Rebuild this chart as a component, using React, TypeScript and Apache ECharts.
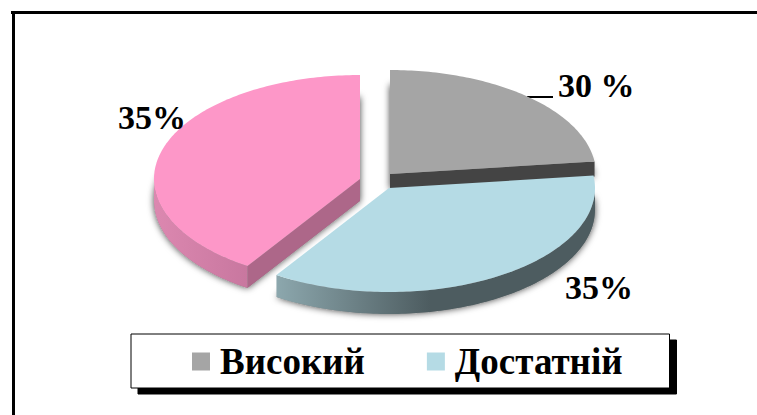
import React, { useEffect, useRef } from "react";
import * as echarts from "echarts";

const legendNames = ["Високий", "Достатній"];
const sliceNames = ["Високий", "Достатній", "Інший"];
// Slice shares as drawn in the picture (printed labels differ from the geometry)
const sliceShares = [23.1, 36.1, 40.8];
const sliceLabels = ["30 %", "35%", "35%"];
const sliceColors = ["#a5a5a5", "#b5dbe5", "#fd97c8"];

const RX = 206;
const RY = 104;
const FONT = '"Liberation Serif", "Times New Roman", serif';

const centers = [
  { x: 390, y: 174, depth: 15 },
  { x: 389, y: 188, depth: 22 },
  { x: 360, y: 179, depth: 22 },
];
const labelPos = [
  { x: 558, y: 85 },
  { x: 565, y: 287 },
  { x: 118, y: 117 },
];

const rad = (d: number) => (d * Math.PI) / 180;
const pt = (c: { x: number; y: number }, deg: number, dy = 0): number[] => [
  c.x + RX * Math.sin(rad(deg)),
  c.y - RY * Math.cos(rad(deg)) + dy,
];
const arc = (c: { x: number; y: number }, a: number, b: number, dy = 0) => {
  const out: number[][] = [];
  const n = Math.max(2, Math.ceil(Math.abs(b - a)));
  for (let i = 0; i <= n; i++) out.push(pt(c, a + ((b - a) * i) / n, dy));
  return out;
};

const lin = (x0: number, x1: number, stops: string[]) => ({
  type: "linear",
  x: x0,
  y: 0,
  x2: x1,
  y2: 0,
  global: true,
  colorStops: stops.map((color, i) => ({ offset: i / (stops.length - 1), color })),
});

const makeRender = (idx: number) => (_p: any, api: any) => {
  const start = api.value(0) as number;
  const end = api.value(1) as number;
  const c = centers[idx];
  const d = c.depth;
  const top = [[c.x, c.y], ...arc(c, start, end)];
  const bottom = top.map(([x, y]) => [x, y + d]);
  const children: any[] = [
    {
      type: "polygon",
      shape: { points: bottom },
      style: {
        fill: "#8a8a8a",
        shadowBlur: 7,
        shadowColor: "rgba(0,0,0,0.75)",
      },
    },
  ];
  // End face that looks towards the viewer
  if (idx === 0) {
    const p = pt(c, end);
    children.push({
      type: "polygon",
      shape: { points: [[c.x, c.y], p, [p[0], p[1] + d], [c.x, c.y + d]] },
      style: { fill: "#444444" },
    });
  }
  if (idx === 2) {
    const p = pt(c, start);
    children.push({
      type: "polygon",
      shape: { points: [[c.x, c.y], p, [p[0], p[1] + d], [c.x, c.y + d]] },
      style: { fill: "#ad6789" },
    });
  }
  // Curved rim, only where it faces the viewer
  const a = Math.max(start, 90);
  const b = Math.min(end, 270);
  if (b > a) {
    const upper = arc(c, a, b);
    const lower = arc(c, b, a, d);
    const fill =
      idx === 1
        ? lin(277, 430, ["#8ca7ad", "#4d5c60"])
        : idx === 2
        ? lin(153, 249, ["#dc88b0", "#c8779f"])
        : "#444444";
    children.push({
      type: "polygon",
      shape: { points: [...upper, ...lower] },
      style: { fill },
    });
  }
  children.push({
    type: "polygon",
    shape: { points: top },
    style: { fill: sliceColors[idx] },
  });
  return { type: "group", children };
};

export default function App() {
  const ref = useRef<HTMLDivElement>(null);
  useEffect(() => {
    const chart = echarts.init(ref.current!, undefined, { renderer: "svg" });
    let acc = 0;
    const spans = sliceShares.map((s) => {
      const from = (acc / 100) * 360;
      acc += s;
      return [from, (acc / 100) * 360];
    });
    chart.setOption({
      animation: false,
      backgroundColor: "#ffffff",
      legend: {
        data: legendNames.map((name) => ({ name, icon: "rect" })),
        left: 131,
        top: 334,
        orient: "horizontal",
        padding: [9, 47, 8, 61],
        itemWidth: 18,
        itemHeight: 18,
        itemGap: 62,
        backgroundColor: "#ffffff",
        borderColor: "#000000",
        borderWidth: 1,
        shadowColor: "#000000",
        shadowOffsetX: 7,
        shadowOffsetY: 6,
        shadowBlur: 0,
        selectedMode: false,
        textStyle: {
          fontFamily: FONT,
          fontWeight: "bold",
          fontSize: 37,
          color: "#000000",
          padding: [0, 0, 0, 5],
        },
      },
      graphic: [
        { type: "rect", shape: { x: 11, y: 11, width: 746, height: 3 }, style: { fill: "#000" } },
        { type: "rect", shape: { x: 12, y: 11, width: 3, height: 404 }, style: { fill: "#000" } },
        { type: "line", shape: { x1: 527, y1: 97, x2: 553, y2: 97 }, style: { stroke: "#000", lineWidth: 2 } },
        ...sliceLabels.map((t, i) => ({
          type: "text",
          x: labelPos[i].x,
          y: labelPos[i].y,
          z: 10,
          style: {
            text: t,
            font: `bold 34px ${FONT}`,
            fill: "#000",
            textVerticalAlign: "middle",
          },
        })),
      ],
      series: [0, 2, 1].map((i) => ({
        type: "custom",
        name: sliceNames[i],
        coordinateSystem: "none",
        silent: true,
        color: sliceColors[i],
        itemStyle: { color: sliceColors[i] },
        data: [spans[i]],
        renderItem: makeRender(i),
      })),
    });
    return () => chart.dispose();
  }, []);
  return (
    <div
      ref={ref}
      style={{ position: "fixed", left: 0, top: 0, width: 757, height: 415 }}
    />
  );
}
